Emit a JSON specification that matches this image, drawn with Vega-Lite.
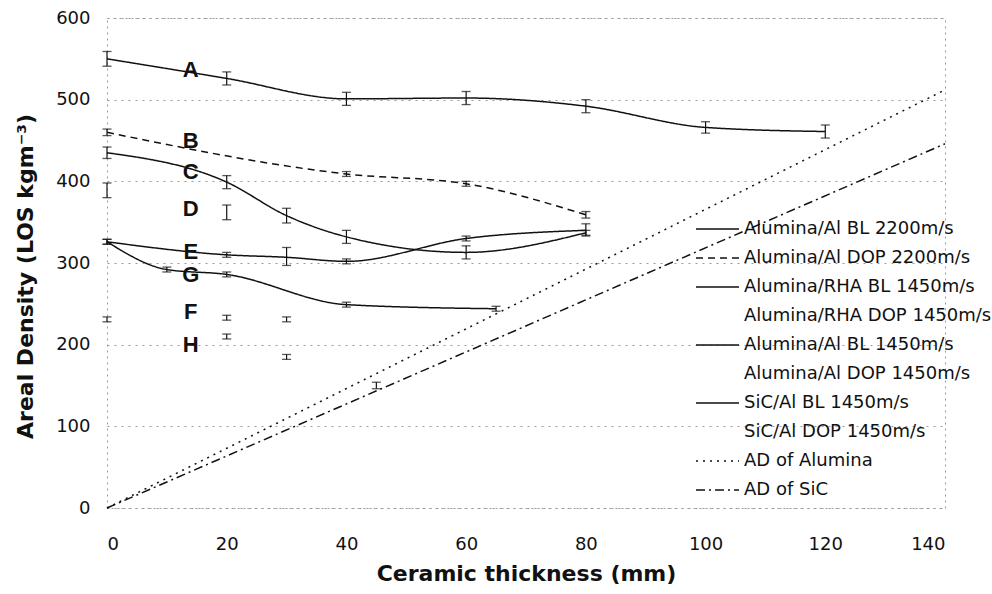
{
  "$schema": "https://vega.github.io/schema/vega-lite/v6.json",
  "autosize": {"type": "none"},
  "width": 838,
  "height": 490,
  "padding": {"left": 107, "top": 18, "right": 47, "bottom": 86},
  "background": "white",
  "config": {
    "font": "DejaVu Sans",
    "view": {"stroke": "#9a9a9a", "strokeDash": [2, 4], "strokeWidth": 1}
  },
  "datasets": {
    "pts": [
      {"series": "Alumina/Al BL 2200m/s", "x": 0, "y": 550, "lo": 541, "hi": 559},
      {"series": "Alumina/Al BL 2200m/s", "x": 20, "y": 526, "lo": 518, "hi": 534},
      {"series": "Alumina/Al BL 2200m/s", "x": 40, "y": 501, "lo": 493, "hi": 509},
      {"series": "Alumina/Al BL 2200m/s", "x": 60, "y": 502, "lo": 494, "hi": 510},
      {"series": "Alumina/Al BL 2200m/s", "x": 80, "y": 492, "lo": 484, "hi": 500},
      {"series": "Alumina/Al BL 2200m/s", "x": 100, "y": 466, "lo": 459, "hi": 473},
      {"series": "Alumina/Al BL 2200m/s", "x": 120, "y": 461, "lo": 453, "hi": 469},
      {"series": "Alumina/Al DOP 2200m/s", "x": 0, "y": 460, "lo": 456, "hi": 464},
      {"series": "Alumina/Al DOP 2200m/s", "x": 40, "y": 409, "lo": 406, "hi": 412},
      {"series": "Alumina/Al DOP 2200m/s", "x": 60, "y": 397, "lo": 394, "hi": 400},
      {"series": "Alumina/Al DOP 2200m/s", "x": 80, "y": 359, "lo": 355, "hi": 363},
      {"series": "Alumina/RHA BL 1450m/s", "x": 0, "y": 435, "lo": 428, "hi": 442},
      {"series": "Alumina/RHA BL 1450m/s", "x": 20, "y": 399, "lo": 391, "hi": 407},
      {"series": "Alumina/RHA BL 1450m/s", "x": 30, "y": 358, "lo": 349, "hi": 367},
      {"series": "Alumina/RHA BL 1450m/s", "x": 40, "y": 332, "lo": 324, "hi": 340},
      {"series": "Alumina/RHA BL 1450m/s", "x": 60, "y": 313, "lo": 305, "hi": 321},
      {"series": "Alumina/RHA BL 1450m/s", "x": 80, "y": 337, "lo": 334, "hi": 340},
      {"series": "Alumina/RHA DOP 1450m/s", "x": 0, "y": 389, "lo": 380, "hi": 398},
      {"series": "Alumina/RHA DOP 1450m/s", "x": 20, "y": 362, "lo": 353, "hi": 371},
      {"series": "Alumina/Al BL 1450m/s", "x": 0, "y": 326, "lo": 323, "hi": 329},
      {"series": "Alumina/Al BL 1450m/s", "x": 20, "y": 310, "lo": 307, "hi": 313},
      {"series": "Alumina/Al BL 1450m/s", "x": 30, "y": 307, "lo": 297, "hi": 319},
      {"series": "Alumina/Al BL 1450m/s", "x": 40, "y": 302, "lo": 299, "hi": 305},
      {"series": "Alumina/Al BL 1450m/s", "x": 60, "y": 330, "lo": 327, "hi": 333},
      {"series": "Alumina/Al BL 1450m/s", "x": 80, "y": 340, "lo": 333, "hi": 348},
      {"series": "Alumina/Al DOP 1450m/s", "x": 0, "y": 231, "lo": 228, "hi": 234},
      {"series": "Alumina/Al DOP 1450m/s", "x": 20, "y": 233, "lo": 230, "hi": 236},
      {"series": "Alumina/Al DOP 1450m/s", "x": 30, "y": 231, "lo": 228, "hi": 234},
      {"series": "SiC/Al BL 1450m/s", "x": 0, "y": 326, "lo": 323, "hi": 329},
      {"series": "SiC/Al BL 1450m/s", "x": 10, "y": 292, "lo": 289, "hi": 295},
      {"series": "SiC/Al BL 1450m/s", "x": 20, "y": 286, "lo": 283, "hi": 289},
      {"series": "SiC/Al BL 1450m/s", "x": 40, "y": 249, "lo": 246, "hi": 252},
      {"series": "SiC/Al BL 1450m/s", "x": 65, "y": 244, "lo": 241, "hi": 247},
      {"series": "SiC/Al DOP 1450m/s", "x": 20, "y": 210, "lo": 207, "hi": 213},
      {"series": "SiC/Al DOP 1450m/s", "x": 30, "y": 185, "lo": 182, "hi": 188},
      {"series": "SiC/Al DOP 1450m/s", "x": 45, "y": 150, "lo": 146, "hi": 154},
      {"series": "AD of Alumina", "x": 0, "y": 0},
      {"series": "AD of Alumina", "x": 140, "y": 512},
      {"series": "AD of SiC", "x": 0, "y": 0},
      {"series": "AD of SiC", "x": 140, "y": 446}
    ],
    "letters": [
      {"label": "A", "x": 14, "y": 536},
      {"label": "B", "x": 14, "y": 450},
      {"label": "C", "x": 14, "y": 411},
      {"label": "D", "x": 14, "y": 366},
      {"label": "E", "x": 14, "y": 313},
      {"label": "G", "x": 14, "y": 285},
      {"label": "F", "x": 14, "y": 240},
      {"label": "H", "x": 14, "y": 200}
    ]
  },
  "layer": [
    {
      "data": {"name": "pts"},
      "transform": [{"filter": "datum.series != 'Alumina/RHA DOP 1450m/s' && datum.series != 'Alumina/Al DOP 1450m/s' && datum.series != 'SiC/Al DOP 1450m/s'"}],
      "mark": {"type": "line", "interpolate": "monotone", "strokeWidth": 1.5, "color": "#111"},
      "encoding": {
        "x": {
          "field": "x", "type": "quantitative",
          "scale": {"domain": [0, 140], "nice": false},
          "axis": {
            "title": "Ceramic thickness (mm)", "values": [0, 20, 40, 60, 80, 100, 120, 140],
            "domain": false, "ticks": false, "grid": false,
            "labelFont": "DejaVu Sans", "labelFontSize": 18, "labelColor": "#111", "labelPadding": 27,
            "titleFont": "DejaVu Sans", "titleFontSize": 22, "titleFontWeight": "bold", "titleColor": "#111", "titlePadding": 10
          }
        },
        "y": {
          "field": "y", "type": "quantitative",
          "scale": {"domain": [0, 600], "nice": false},
          "axis": {
            "title": "Areal Density (LOS kgm⁻³)", "values": [0, 100, 200, 300, 400, 500, 600],
            "domain": false, "ticks": false,
            "grid": true, "gridColor": "#9a9a9a", "gridDash": [2, 5], "gridWidth": 1,
            "labelFont": "DejaVu Sans", "labelFontSize": 18, "labelColor": "#111", "labelPadding": 17,
            "titleFont": "DejaVu Sans", "titleFontSize": 22, "titleFontWeight": "bold", "titleColor": "#111", "titlePadding": 18, "titleY": 258
          }
        },
        "detail": {"field": "series", "type": "nominal"},
        "strokeDash": {
          "field": "series", "type": "nominal",
          "scale": {
            "domain": ["Alumina/Al BL 2200m/s", "Alumina/Al DOP 2200m/s", "Alumina/RHA BL 1450m/s", "Alumina/RHA DOP 1450m/s", "Alumina/Al BL 1450m/s", "Alumina/Al DOP 1450m/s", "SiC/Al BL 1450m/s", "SiC/Al DOP 1450m/s", "AD of Alumina", "AD of SiC"],
            "range": [[1, 0], [7, 5], [1, 0], [0, 100], [1, 0], [0, 100], [1, 0], [0, 100], [2, 5], [9, 4, 2, 4]]
          },
          "legend": {
            "title": null, "orient": "none", "legendX": 588, "legendY": 200,
            "symbolType": "M-1,0H3.3", "symbolSize": 400, "symbolStrokeWidth": 1.4, "symbolStrokeColor": "#111", "symbolFillColor": "transparent",
            "labelFont": "DejaVu Sans", "labelFontSize": 18, "labelColor": "#111", "labelOffset": 27,
            "rowPadding": 9, "labelLimit": 320
          }
        }
      }
    },
    {
      "data": {"name": "pts"},
      "transform": [{"filter": "isValid(datum.lo)"}],
      "mark": {"type": "rule", "color": "#111", "strokeWidth": 1.2},
      "encoding": {
        "x": {"field": "x", "type": "quantitative"},
        "y": {"field": "lo", "type": "quantitative"},
        "y2": {"field": "hi"}
      }
    },
    {
      "data": {"name": "pts"},
      "transform": [{"filter": "isValid(datum.lo)"}],
      "mark": {"type": "tick", "orient": "horizontal", "color": "#111", "size": 9, "thickness": 1.3},
      "encoding": {
        "x": {"field": "x", "type": "quantitative"},
        "y": {"field": "lo", "type": "quantitative"}
      }
    },
    {
      "data": {"name": "pts"},
      "transform": [{"filter": "isValid(datum.hi)"}],
      "mark": {"type": "tick", "orient": "horizontal", "color": "#111", "size": 9, "thickness": 1.3},
      "encoding": {
        "x": {"field": "x", "type": "quantitative"},
        "y": {"field": "hi", "type": "quantitative"}
      }
    },
    {
      "data": {"name": "letters"},
      "mark": {"type": "text", "font": "Liberation Sans", "fontSize": 22, "fontWeight": "bold", "color": "#111", "align": "center", "baseline": "middle"},
      "encoding": {
        "x": {"field": "x", "type": "quantitative"},
        "y": {"field": "y", "type": "quantitative"},
        "text": {"field": "label"}
      }
    }
  ]
}
